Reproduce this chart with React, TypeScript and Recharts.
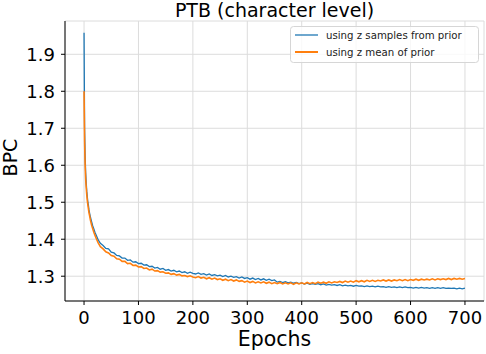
import { LineChart, Line, XAxis, YAxis, CartesianGrid } from 'recharts'

const epochs = [
  0, 1, 2, 3, 4, 5, 6, 7, 8, 9, 10, 12, 14, 16, 18, 20, 23, 26, 30,
  35, 40, 45, 50, 55, 60, 65, 70, 75, 80, 85, 90, 95, 100,
  105, 110, 115, 120, 125, 130, 135, 140, 145, 150, 155, 160, 165, 170, 175, 180, 185, 190, 195, 200,
  205, 210, 215, 220, 225, 230, 235, 240, 245, 250, 255, 260, 265, 270, 275, 280, 285, 290, 295, 300,
  305, 310, 315, 320, 325, 330, 335, 340, 345, 350, 355, 360, 365, 370, 375, 380, 385, 390, 395, 400,
  405, 410, 415, 420, 425, 430, 435, 440, 445, 450, 455, 460, 465, 470, 475, 480, 485, 490, 495, 500,
  505, 510, 515, 520, 525, 530, 535, 540, 545, 550, 555, 560, 565, 570, 575, 580, 585, 590, 595, 600,
  605, 610, 615, 620, 625, 630, 635, 640, 645, 650, 655, 660, 665, 670, 675, 680, 685, 690, 695, 700,
]

const samplesBpc = [
  1.958, 1.7, 1.625, 1.58, 1.552, 1.53, 1.515, 1.5, 1.492, 1.48, 1.472, 1.458, 1.447, 1.436, 1.428, 1.419, 1.409, 1.398, 1.389,
  1.383, 1.375, 1.374, 1.365, 1.363, 1.356, 1.355, 1.349, 1.349, 1.343, 1.344, 1.338, 1.339, 1.334,
  1.335, 1.33, 1.331, 1.326, 1.327, 1.322, 1.324, 1.319, 1.321, 1.316, 1.318, 1.314, 1.316, 1.312, 1.314, 1.31, 1.312, 1.308, 1.311, 1.308,
  1.306, 1.309, 1.305, 1.307, 1.303, 1.306, 1.302, 1.304, 1.301, 1.303, 1.299, 1.302, 1.298, 1.3, 1.297, 1.299, 1.295, 1.298, 1.294, 1.296,
  1.292, 1.295, 1.291, 1.294, 1.29, 1.293, 1.289, 1.292, 1.288, 1.29, 1.284, 1.286, 1.283, 1.285, 1.282, 1.284, 1.281, 1.283, 1.28, 1.282,
  1.279, 1.281, 1.278, 1.28, 1.278, 1.28, 1.277, 1.279, 1.276, 1.278, 1.276, 1.277, 1.275, 1.277, 1.274, 1.276, 1.274, 1.275, 1.273, 1.275,
  1.273, 1.274, 1.272, 1.274, 1.272, 1.273, 1.271, 1.273, 1.271, 1.272, 1.27, 1.272, 1.27, 1.271, 1.269, 1.271, 1.269, 1.271, 1.269, 1.27,
  1.268, 1.27, 1.268, 1.27, 1.268, 1.269, 1.267, 1.269, 1.267, 1.269, 1.267, 1.269, 1.267, 1.268, 1.267, 1.268, 1.266, 1.268, 1.266, 1.268,
]

const meanBpc = [
  1.8, 1.665, 1.6, 1.562, 1.54, 1.52, 1.505, 1.493, 1.483, 1.472, 1.465, 1.45, 1.438, 1.428, 1.419, 1.411, 1.4, 1.39, 1.38,
  1.374, 1.366, 1.363, 1.356, 1.354, 1.347, 1.346, 1.34, 1.34, 1.334, 1.335, 1.329, 1.33, 1.325,
  1.326, 1.321, 1.322, 1.317, 1.319, 1.314, 1.315, 1.311, 1.312, 1.308, 1.309, 1.305, 1.307, 1.303, 1.305, 1.301, 1.302, 1.299, 1.301, 1.298,
  1.296, 1.299, 1.295, 1.297, 1.293, 1.296, 1.292, 1.295, 1.291, 1.293, 1.289, 1.292, 1.288, 1.291, 1.287, 1.29, 1.286, 1.288, 1.284, 1.287,
  1.283, 1.286, 1.282, 1.285, 1.282, 1.285, 1.281, 1.284, 1.28, 1.283, 1.28, 1.283, 1.279, 1.282, 1.279, 1.282, 1.278, 1.282, 1.279, 1.282,
  1.279, 1.283, 1.28, 1.283, 1.28, 1.284, 1.281, 1.284, 1.281, 1.285, 1.282, 1.285, 1.283, 1.286, 1.283, 1.287, 1.284, 1.287, 1.284, 1.288,
  1.285, 1.288, 1.285, 1.289, 1.286, 1.289, 1.286, 1.289, 1.287, 1.29, 1.287, 1.29, 1.287, 1.29, 1.288, 1.291, 1.288, 1.291, 1.288, 1.291,
  1.289, 1.292, 1.289, 1.292, 1.29, 1.292, 1.29, 1.293, 1.29, 1.293, 1.291, 1.293, 1.291, 1.294, 1.291, 1.294, 1.292, 1.294, 1.292, 1.294,
]

const xTicks = [0, 100, 200, 300, 400, 500, 600, 700]
const yTicks = [1.3, 1.4, 1.5, 1.6, 1.7, 1.8, 1.9]

const seriesNames = ['using z samples from prior', 'using z mean of prior']
const BLUE = '#1f77b4'
const ORANGE = '#ff7f0e'
const FONT = '"DejaVu Sans", sans-serif'

const data = epochs.map((e, i) => ({ epoch: e, samples: samplesBpc[i], mean: meanBpc[i] }))

export default function App() {
  return (
    <div style={{ position: 'absolute', left: 0, top: 0, width: 486, height: 354, background: '#fff' }}>
      <LineChart width={486} height={354} data={data} margin={{ top: 21, right: 2, bottom: 0, left: 0 }}>
        <CartesianGrid stroke="#dcdcdc" strokeWidth={1} />
        <XAxis
          dataKey="epoch"
          type="number"
          domain={[-35, 735]}
          ticks={xTicks}
          allowDataOverflow
          height={53}
          tick={{ fontSize: 18, fill: '#000', fontFamily: FONT }}
          tickLine={{ stroke: '#000' }}
          tickSize={4}
          tickMargin={6}
          axisLine={{ stroke: '#000' }}
        />
        <XAxis xAxisId="top" orientation="top" type="number" domain={[-35, 735]} height={0} tick={false} tickLine={false} axisLine={{ stroke: '#000' }} />
        <YAxis
          type="number"
          domain={[1.233, 1.99]}
          ticks={yTicks}
          allowDataOverflow
          width={65}
          tickFormatter={(v: number) => v.toFixed(1)}
          tick={{ fontSize: 18, fill: '#000', fontFamily: FONT }}
          tickLine={{ stroke: '#000' }}
          tickSize={4}
          tickMargin={6}
          axisLine={{ stroke: '#000' }}
        />
        <YAxis yAxisId="right" orientation="right" width={0} tick={false} tickLine={false} axisLine={{ stroke: '#000' }} />
        <Line dataKey="samples" name={seriesNames[0]} stroke={BLUE} strokeWidth={1.3} dot={false} isAnimationActive={false} />
        <Line dataKey="mean" name={seriesNames[1]} stroke={ORANGE} strokeWidth={1.6} dot={false} isAnimationActive={false} />
      </LineChart>
      <svg width={486} height={354} style={{ position: 'absolute', left: 0, top: 0, pointerEvents: 'none' }}>
        <text x={274.5} y={17} textAnchor="middle" fontFamily={FONT} fontSize={19} fill="#000">PTB (character level)</text>
        <text x={274.5} y={346} textAnchor="middle" fontFamily={FONT} fontSize={20.5} fill="#000">Epochs</text>
        <text transform="translate(17,157.5) rotate(-90)" textAnchor="middle" fontFamily={FONT} fontSize={19} fill="#000">BPC</text>
        <rect x={290.5} y={26.5} width={188} height={36} rx={3} fill="#fff" fillOpacity={0.8} stroke="#d6d6d6" />
        <line x1={295} x2={318} y1={35} y2={35} stroke={BLUE} strokeWidth={1.3} />
        <line x1={295} x2={318} y1={52} y2={52} stroke={ORANGE} strokeWidth={2} />
        <text x={326} y={38.5} fontFamily={FONT} fontSize={10.2} fill="#222">{seriesNames[0]}</text>
        <text x={326} y={55.5} fontFamily={FONT} fontSize={10.2} fill="#222">{seriesNames[1]}</text>
      </svg>
    </div>
  )
}
